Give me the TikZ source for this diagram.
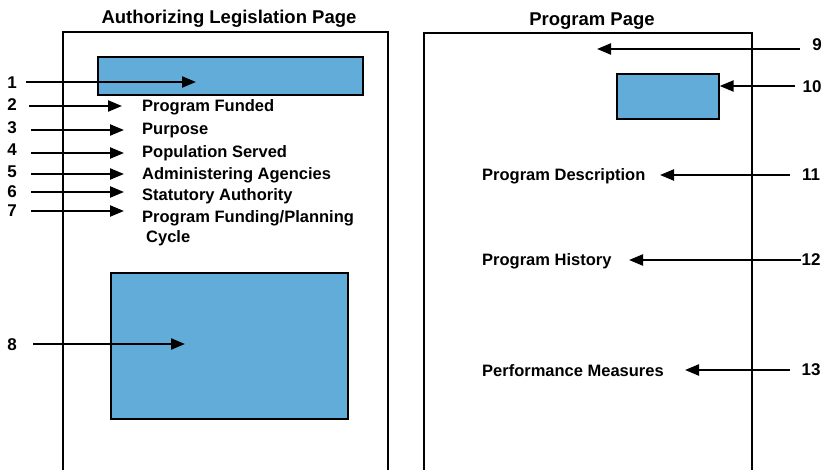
\documentclass[tikz,border=0pt]{standalone}
\usepackage{fontspec}
\setmainfont{Liberation Sans}
\usetikzlibrary{arrows.meta}
\definecolor{boxblue}{RGB}{98,172,218}
\begin{document}
\begin{tikzpicture}[x=1pt,y=-1pt,
  page/.style={draw=black,line width=1.3pt},
  bluebox/.style={draw=black,line width=1.3pt,fill=boxblue},
  num/.style={font=\fontsize{17}{17}\selectfont\bfseries,inner sep=0pt},
  txt/.style={font=\fontsize{16.5}{16.5}\selectfont\bfseries,inner sep=0pt,anchor=west},
  ttl/.style={font=\fontsize{18.5}{18.5}\selectfont\bfseries,inner sep=0pt},
  pointer/.style={line width=2.2pt,-{Triangle[length=14pt,width=11pt]}}]
\useasboundingbox (0,0) rectangle (824,470);
% pages
\draw[page] (63,470) -- (63,32) -- (388,32) -- (388,470);
\draw[page] (424,470) -- (424,33) -- (752,33) -- (752,470);
\node[ttl] (tl) at (229,19) {Authorizing Legislation Page};
\node[ttl] (tr) at (592,21) {Program Page};
% blue boxes
\node[bluebox,minimum width=265pt,minimum height=38pt,inner sep=0pt] (b1) at (230.5,76) {};
\node[bluebox,minimum width=237pt,minimum height=146pt,inner sep=0pt] (b8) at (229.5,346) {};
\node[bluebox,minimum width=102pt,minimum height=45pt,inner sep=0pt] (b10) at (668,96.5) {};
% left texts
\node[txt] (t2) at (142,107.5) {Program Funded};
\node[txt] (t3) at (142,130.5) {Purpose};
\node[txt] (t4) at (142,153.5) {Population Served};
\node[txt] (t5) at (142,175.5) {Administering Agencies};
\node[txt] (t6) at (142,196.5) {Statutory Authority};
\node[txt] (t7) at (142,218.5) {Program Funding/Planning};
\node[txt] (t7b) at (146,238.5) {Cycle};
% left numbers
\node[num] (n1) at (12,83) {1};
\node[num] (n2) at (12,105) {2};
\node[num] (n3) at (12,128) {3};
\node[num] (n4) at (12,150) {4};
\node[num] (n5) at (12,172) {5};
\node[num] (n6) at (12,192) {6};
\node[num] (n7) at (12,211) {7};
\node[num] (n8) at (12,345) {8};
% tips
\coordinate (p1) at (196,82);
\coordinate (p2) at (122,106);
\coordinate (p3) at (124,130);
\coordinate (p4) at (124,153);
\coordinate (p5) at (124,174);
\coordinate (p6) at (124,192);
\coordinate (p7) at (124,211);
\coordinate (p8) at (185,344);
\draw[pointer] (26,82) -- (p1);
\draw[pointer] (29,106) -- (p2);
\draw[pointer] (31,130) -- (p3);
\draw[pointer] (31,153) -- (p4);
\draw[pointer] (31,174) -- (p5);
\draw[pointer] (31,192) -- (p6);
\draw[pointer] (31,211) -- (p7);
\draw[pointer] (33,344) -- (p8);
% right texts
\node[txt] (t11) at (482,176) {Program Description};
\node[txt] (t12) at (482,261) {Program History};
\node[txt] (t13) at (482,371) {Performance Measures};
% right numbers
\node[num] (n9) at (817,45) {9};
\node[num] (n10) at (812,87) {10};
\node[num] (n11) at (811,175) {11};
\node[num] (n12) at (811,260) {12};
\node[num] (n13) at (811,370) {13};
\coordinate (p9) at (597,49);
\draw[pointer] (800,49) -- (p9);
\draw[pointer] (795,86) -- (b10.east |- 0,86);
\draw[pointer] (790,175) -- (660,175);
\draw[pointer] (n12.west) -- (629,260);
\draw[pointer] (790,370) -- (685,370);
\end{tikzpicture}
\end{document}
